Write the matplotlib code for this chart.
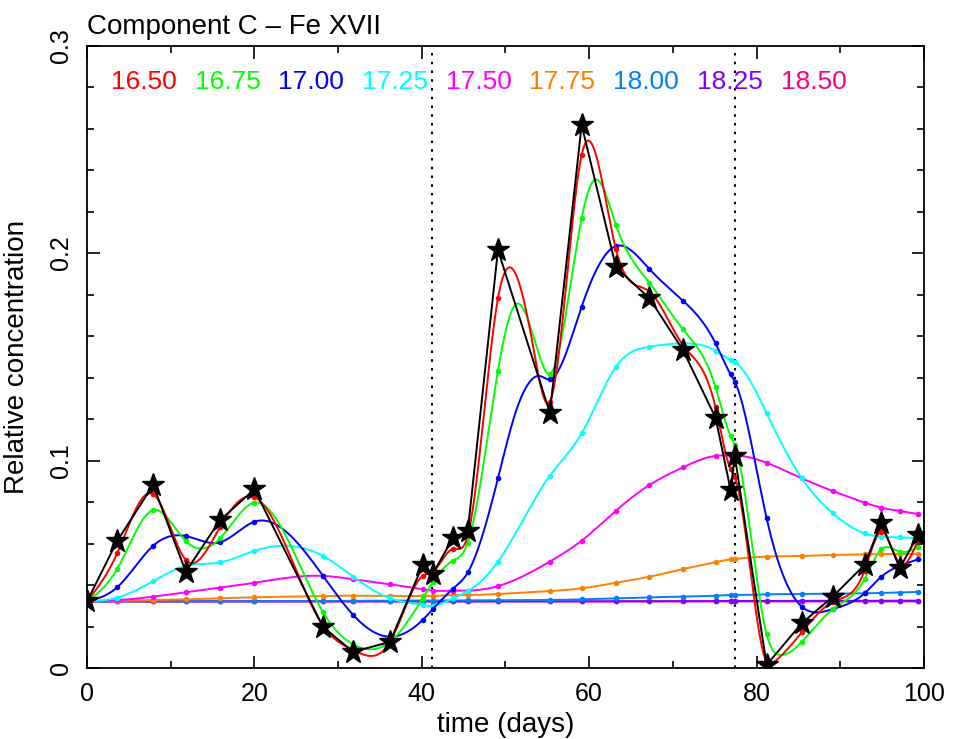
import numpy as np
import matplotlib
matplotlib.use("Agg")
import matplotlib.pyplot as plt
from matplotlib.ticker import MultipleLocator

plt.rcParams['font.family'] = ['Liberation Sans', 'DejaVu Sans']

# Data
t = [0, 3.6, 7.9, 11.8, 15.9, 20.0, 28.2, 31.8, 36.2, 40.1, 41.3, 43.7, 45.5, 49.1,
     55.3, 59.1, 63.2, 67.2, 71.2, 75.1, 76.9, 77.4, 81.2, 85.4, 89.1, 92.9, 94.9,
     97.1, 99.3]

obs = [0.0322, 0.0613, 0.0883, 0.0465, 0.0714, 0.0862, 0.0199, 0.0079, 0.0127, 0.0497,
       0.0454, 0.0626, 0.0663, 0.2015, 0.1231, 0.2617, 0.1932, 0.1782, 0.1533, 0.1207,
       0.0859, 0.1023, 0.0016, 0.0217, 0.0345, 0.0498, 0.0701, 0.0482, 0.0642]

c1650 = [0.0322, 0.0554, 0.0840, 0.0522, 0.0682, 0.0824, 0.0205, 0.0088, 0.0127, 0.0445,
         0.0465, 0.0575, 0.0640, 0.1782, 0.1284, 0.2473, 0.2018, 0.1815, 0.1557, 0.1257,
         0.0958, 0.0920, 0.0030, 0.0173, 0.0320, 0.0470, 0.0658, 0.0506, 0.0618]
c1675 = [0.0322, 0.0478, 0.0762, 0.0613, 0.0626, 0.0798, 0.0270, 0.0115, 0.0128, 0.0337,
         0.0414, 0.0518, 0.0605, 0.1434, 0.1418, 0.2168, 0.2135, 0.1857, 0.1633, 0.1354,
         0.1119, 0.1076, 0.0165, 0.0128, 0.0284, 0.0429, 0.0573, 0.0562, 0.0583]
c1700 = [0.0322, 0.0390, 0.0590, 0.0637, 0.0607, 0.0706, 0.0445, 0.0257, 0.0152, 0.0233,
         0.0284, 0.0382, 0.0462, 0.0915, 0.1392, 0.1742, 0.2034, 0.1923, 0.1771, 0.1565,
         0.1416, 0.1381, 0.0723, 0.0297, 0.0285, 0.0361, 0.0441, 0.0493, 0.0525]
c1725 = [0.0322, 0.0340, 0.0420, 0.0493, 0.0510, 0.0566, 0.0541, 0.0441, 0.0337, 0.0305,
         0.0300, 0.0337, 0.0372, 0.0514, 0.0928, 0.1132, 0.1453, 0.1549, 0.1565, 0.1530,
         0.1485, 0.1475, 0.1228, 0.0915, 0.0747, 0.0650, 0.0634, 0.0631, 0.0626]
c1750 = [0.0322, 0.0328, 0.0345, 0.0366, 0.0388, 0.0412, 0.0445, 0.0429, 0.0405, 0.0380,
         0.0374, 0.0374, 0.0374, 0.0396, 0.0514, 0.0615, 0.0759, 0.0883, 0.0968, 0.1023,
         0.1025, 0.1025, 0.0990, 0.0915, 0.0854, 0.0798, 0.0774, 0.0758, 0.0743]
c1775 = [0.0322, 0.0325, 0.0329, 0.0332, 0.0337, 0.0342, 0.0348, 0.0350, 0.0348, 0.0348,
         0.0348, 0.0353, 0.0353, 0.0358, 0.0372, 0.0385, 0.0412, 0.0441, 0.0478, 0.0511,
         0.0525, 0.0527, 0.0538, 0.0541, 0.0546, 0.0549, 0.0550, 0.0550, 0.0550]
c1800 = [0.0322, 0.0322, 0.0322, 0.0322, 0.0323, 0.0323, 0.0324, 0.0325, 0.0326, 0.0326,
         0.0326, 0.0327, 0.0327, 0.0328, 0.0329, 0.0332, 0.0337, 0.0342, 0.0345, 0.0350,
         0.0353, 0.0353, 0.0356, 0.0358, 0.0360, 0.0361, 0.0363, 0.0365, 0.0368]
c1825 = [0.0322, 0.0322, 0.0322, 0.0322, 0.0322, 0.0322, 0.0322, 0.0322, 0.0322, 0.0322,
         0.0322, 0.0322, 0.0322, 0.0322, 0.0322, 0.0322, 0.0323, 0.0323, 0.0323, 0.0324,
         0.0324, 0.0324, 0.0324, 0.0325, 0.0325, 0.0325, 0.0325, 0.0326, 0.0326]
c1850 = [0.0322, 0.0322, 0.0322, 0.0322, 0.0322, 0.0322, 0.0322, 0.0322, 0.0322, 0.0322,
         0.0322, 0.0322, 0.0322, 0.0322, 0.0322, 0.0322, 0.0322, 0.0322, 0.0322, 0.0322,
         0.0322, 0.0322, 0.0322, 0.0322, 0.0322, 0.0322, 0.0322, 0.0322, 0.0322]

# extra points on the curves between the dots
extra_1650 = [(50.1, 0.192), (53.3, 0.155), (82.0, 0.0027)]
extra_1675 = [(51.3, 0.1755), (54.1, 0.150), (60.8, 0.2355), (82.8, 0.0064)]
extra_1700 = [(51.3, 0.1244), (52.5, 0.1356), (54.1, 0.1408)]

labels = ['16.50', '16.75', '17.00', '17.25', '17.50', '17.75', '18.00', '18.25', '18.50']
colors = ['#ff0000', '#00ff00', '#0000ff', '#00ffff', '#ff00ff', '#ff8000', '#0080ff',
          '#8000ff', '#ff0080']
series = [c1650, c1675, c1700, c1725, c1750, c1775, c1800, c1825, c1850]
extras = [extra_1650, extra_1675, extra_1700, [], [], [], [], [], []]
vlines = [41.2, 77.4]


def csplines(x, y, xs):
    # natural cubic spline, like gnuplot "smooth csplines"
    x = np.asarray(x, float)
    y = np.asarray(y, float)
    n = len(x)
    h = np.diff(x)
    A = np.zeros((n, n))
    b = np.zeros(n)
    A[0, 0] = A[-1, -1] = 1
    for i in range(1, n - 1):
        A[i, i - 1] = h[i - 1]
        A[i, i] = 2 * (h[i - 1] + h[i])
        A[i, i + 1] = h[i]
        b[i] = 3 * ((y[i + 1] - y[i]) / h[i] - (y[i] - y[i - 1]) / h[i - 1])
    c = np.linalg.solve(A, b)
    k = np.clip(np.searchsorted(x, xs) - 1, 0, n - 2)
    dx = xs - x[k]
    bb = (y[k + 1] - y[k]) / h[k] - h[k] * (2 * c[k] + c[k + 1]) / 3
    d = (c[k + 1] - c[k]) / (3 * h[k])
    return y[k] + bb * dx + c[k] * dx ** 2 + d * dx ** 3


fig = plt.figure(figsize=(9.68, 7.39), dpi=100)
ax = fig.add_axes([0.0899, 0.0957, 0.8646, 0.8427])

xs = np.linspace(t[0], t[-1], 2000)
for vals, ext, col in reversed(list(zip(series, extras, colors))):
    knots = sorted(list(zip(t, vals)) + ext)
    kx = [p[0] for p in knots]
    ky = [p[1] for p in knots]
    ax.plot(xs, csplines(kx, ky, xs), color=col, lw=1.4, zorder=2)
    ax.plot(t, vals, 'o', color=col, ms=4, mec='none', zorder=2)

ax.plot(t, obs, '-', color='black', lw=1.4, zorder=3)
ax.plot(t, obs, '*', color='black', ms=17, zorder=4)

for v in vlines:
    ax.axvline(v, color='black', ls=(0, (1.2, 3)), lw=1.5, zorder=1)

for i, (lab, col) in enumerate(zip(labels, colors)):
    ax.text(6.8 + 10 * i, 0.2822, lab, color=col, fontsize=19, ha='center', va='center')

ax.set_xlim(0, 100)
ax.set_ylim(0, 0.3)
ax.xaxis.set_major_locator(MultipleLocator(20))
ax.xaxis.set_minor_locator(MultipleLocator(10))
ax.yaxis.set_major_locator(MultipleLocator(0.1))
ax.yaxis.set_minor_locator(MultipleLocator(0.02))
ax.yaxis.set_major_formatter(plt.FuncFormatter(lambda v, p: '0' if v == 0 else '%g' % v))
ax.tick_params(which='both', direction='in', top=True, right=True, width=1.2,
               labelsize=18)
ax.tick_params(which='major', length=9)
ax.tick_params(which='minor', length=5)
ax.tick_params(axis='x', pad=10)
ax.tick_params(axis='y', pad=10)
for lab in ax.get_yticklabels():
    lab.set_rotation(90)
    lab.set_va('center')
for s in ax.spines.values():
    s.set_linewidth(1.3)

ax.set_xlabel('time (days)', fontsize=20, labelpad=4)
ax.set_ylabel('Relative concentration', fontsize=20, labelpad=14)
ax.set_title('Component C \u2013 Fe XVII', loc='left', fontsize=20, pad=8)

fig.savefig('out.png', dpi=100)
